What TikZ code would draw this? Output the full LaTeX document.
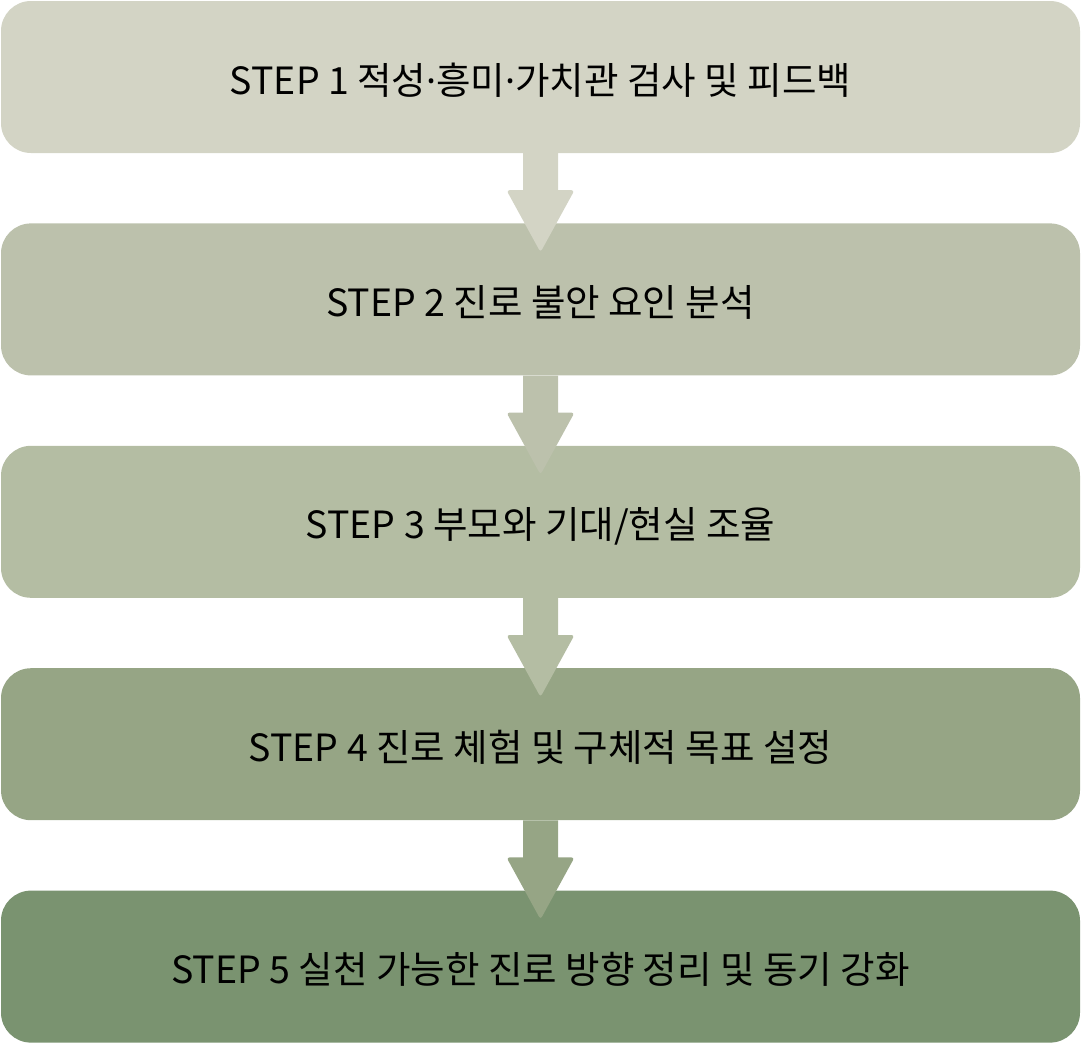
\documentclass[tikz,border=0pt]{standalone}
\usepackage{fontspec}
\setmainfont{Noto Sans CJK KR}
\newfontfamily\dotfont{Noto Sans}
\usepackage{xcolor}
\usepackage{tikz}
\usetikzlibrary{positioning, calc}

\definecolor{stepA}{RGB}{211,212,197}
\definecolor{stepB}{RGB}{188,193,172}
\definecolor{stepC}{RGB}{180,189,163}
\definecolor{stepD}{RGB}{150,165,133}
\definecolor{stepE}{RGB}{122,147,112}

\newcommand{\md}{{\dotfont ·}}
% block arrow from the bottom of #1 into the top of #2
\newcommand{\flowarrow}[3]{%
  \fill[#3] ([xshift=-17.5pt]#1.south) -- ([xshift=-17.5pt, yshift=-37pt]#1.south)
    [rounded corners=3pt] -- ([xshift=-34pt, yshift=-37pt]#1.south)
    -- ([yshift=-29pt]#2.north) -- ([xshift=34pt, yshift=-37pt]#1.south)
    [sharp corners] -- ([xshift=17.5pt, yshift=-37pt]#1.south)
    -- ([xshift=17.5pt]#1.south) -- cycle;}

\begin{document}
\begin{tikzpicture}[
  x=1pt, y=1pt,
  stage/.style={rounded corners=30pt, minimum width=1079pt, minimum height=152pt,
    font=\fontsize{37.5}{42}\selectfont, inner sep=0pt, text height=34pt, text depth=0pt, text=black},
  node distance=70pt,
]
\useasboundingbox (0,0) rectangle (1081,-1042);
\node[stage, fill=stepA] (s1) at (540.5,-77) {STEP 1 적성\md 흥미\md 가치관 검사 및 피드백};
\node[stage, fill=stepB, below=of s1] (s2) {STEP 2 진로 불안 요인 분석};
\node[stage, fill=stepC, below=of s2] (s3) {STEP 3 부모와 기대/현실 조율};
\node[stage, fill=stepD, below=of s3] (s4) {STEP 4 진로 체험 및 구체적 목표 설정};
\node[stage, fill=stepE, below=of s4] (s5) {STEP 5 실천 가능한 진로 방향 정리 및 동기 강화};
\flowarrow{s1}{s2}{stepA}
\flowarrow{s2}{s3}{stepB}
\flowarrow{s3}{s4}{stepC}
\flowarrow{s4}{s5}{stepD}
\end{tikzpicture}
\end{document}
